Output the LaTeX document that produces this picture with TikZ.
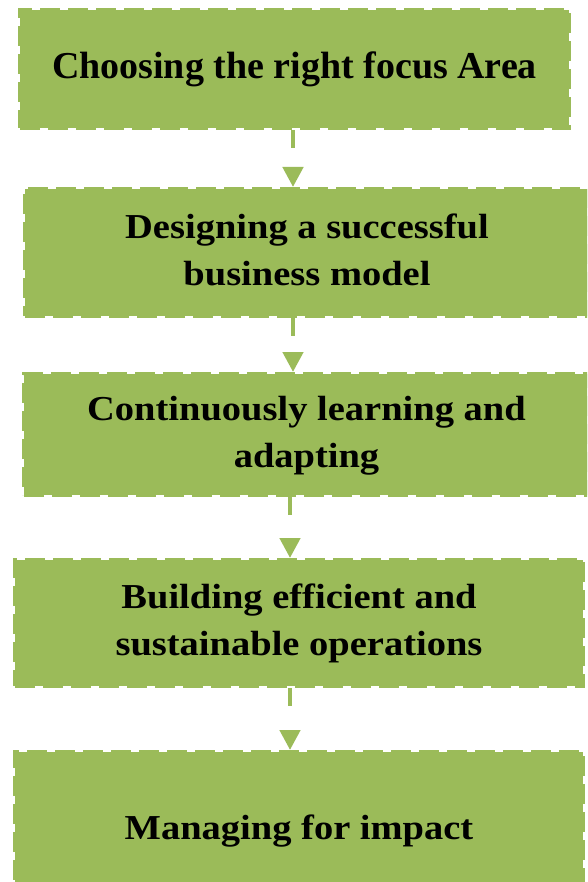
\documentclass[tikz,border=0pt]{standalone}
\usepackage{fontspec}
\usepackage{graphicx}
\setmainfont{Liberation Serif}
\usetikzlibrary{arrows.meta}
\definecolor{boxgreen}{HTML}{9BBB59}
\newcommand\boxtext[2]{\scalebox{#1}[1]{\begin{tabular}{@{}c@{}}#2\end{tabular}}}
\tikzset{
  stepbox/.style={rectangle, fill=boxgreen, draw=boxgreen, line width=4pt,
    dash pattern=on 20pt off 8pt, inner sep=0pt, anchor=center,
    font=\bfseries\fontsize{35}{47}\selectfont, text=black},
  flow/.style={draw=boxgreen, line width=4.5pt, dash pattern=on 18pt off 80pt,
    -{Triangle[length=20pt,width=20pt,fill=boxgreen]}}
}
\begin{document}
\begin{tikzpicture}[x=1pt,y=-1pt]
\useasboundingbox (0,0) rectangle (587,882);
\fill[white] (0,0) rectangle (587,882);
\clip (0,0) rectangle (587,882);
\node[stepbox, minimum width=549pt, minimum height=118pt, font=\bfseries\fontsize{38}{47}\selectfont] (b1) at (294.5,69) {\boxtext{1}{Choosing the right focus Area}};
\node[stepbox, minimum width=564pt, minimum height=127pt] (b2) at (307,252.5) {\boxtext{1.1}{Designing a successful\\business model}};
\node[stepbox, minimum width=565pt, minimum height=121pt] (b3) at (306.5,434.5) {\boxtext{1.1}{Continuously learning and\\adapting}};
\node[stepbox, minimum width=568pt, minimum height=126pt] (b4) at (299,623) {\boxtext{1.1}{Building efficient and\\sustainable operations}};
\node[stepbox, minimum width=568pt, minimum height=156pt] (b5) at (299,830) {\boxtext{1.1}{Managing for impact}};
\coordinate (xa) at (293,0);
\coordinate (xb) at (290,0);
\draw[flow] (b1.south -| xa) -- (b2.north -| xa);
\draw[flow] (b2.south -| xa) -- (b3.north -| xa);
\draw[flow] (b3.south -| xb) -- (b4.north -| xb);
\draw[flow] (b4.south -| xb) -- (b5.north -| xb);
\end{tikzpicture}
\end{document}
